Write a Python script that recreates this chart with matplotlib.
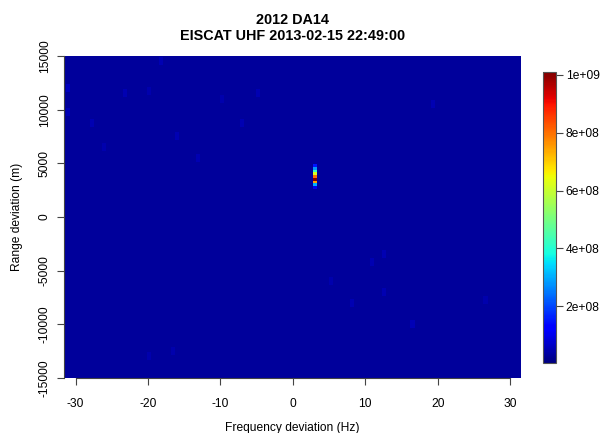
"""Range-Doppler power map of 2012 DA14, EISCAT UHF, 2013-02-15 22:49:00."""
import matplotlib

matplotlib.use("Agg")
import matplotlib.pyplot as plt
import numpy as np
from matplotlib.colors import Normalize
from matplotlib.ticker import FixedLocator

W, H = 604, 433

# grid of the map: Doppler bin width (Hz), range gate (m), noise floor
FREQ_BIN_HZ = 0.56
RANGE_GATE_M = 250
BACKGROUND_POWER = 2.8e7
POWER_MIN = 4e6

# the asteroid echo: one Doppler bin, range profile from top to bottom
ECHO_FREQ_HZ = 3.08
ECHO_RANGE_M = [4775, 4525, 4275, 4025, 3775, 3525, 3275, 3025, 2775]
ECHO_POWER = [1.5e8, 2.8e8, 4.2e8, 6.2e8, 8.0e8, 1.01e9, 7.5e8, 3.0e8, 1.0e8]

# slightly brighter noise streaks seen in the background
STREAK_FREQ_HZ = [-31.2, -27.8, -23.2, -19.7, -16.0, -13.3, -9.6, -18.3, -26.2, -7.0,
                  10.7, 12.7, 8.3, 5.6, 12.5, 16.6, -31.3, 19.2, 26.8, -4.8, -16.3, -19.7]
STREAK_RANGE_M = [12100, 8810, 11610, 11890, 7530, 5540, 10960, 14500, 6570, 8810,
                  -4270, -3510, -7990, -6030, -7060, -10050, 9840, 10490, -7720, 11420,
                  -12570, -13040]
STREAK_POWER = [6e7, 4.8e7, 4.8e7, 4.5e7, 5e7, 4.8e7, 4.5e7, 4.8e7, 4.5e7, 4.8e7,
                5e7, 4.8e7, 4.8e7, 4.5e7, 4.8e7, 5.5e7, 5.5e7, 4.8e7, 4.5e7, 4.8e7,
                4.5e7, 4.5e7]

X_TICKS = [-30, -20, -10, 0, 10, 20, 30]
Y_TICKS = [-15000, -10000, -5000, 0, 5000, 10000, 15000]
CBAR_TICKS = [2e8, 4e8, 6e8, 8e8, 1e9]
CBAR_LABELS = ["2e+08", "4e+08", "6e+08", "8e+08", "1e+09"]

FONT = ["Liberation Sans", "DejaVu Sans"]


def build_map():
    freq_edges = ECHO_FREQ_HZ - FREQ_BIN_HZ / 2 + FREQ_BIN_HZ * np.arange(-62, 53)
    range_edges = np.arange(-15100, 15151, RANGE_GATE_M)
    power = np.full((len(range_edges) - 1, len(freq_edges) - 1), BACKGROUND_POWER)

    def cell(f, r):
        return (np.searchsorted(range_edges, r) - 1, np.searchsorted(freq_edges, f) - 1)

    for f, r, p in zip(STREAK_FREQ_HZ, STREAK_RANGE_M, STREAK_POWER):
        i_r, i_f = cell(f, r)
        power[max(i_r - 1, 0):i_r + 2, i_f] = p
    for r, p in zip(ECHO_RANGE_M, ECHO_POWER):
        i_r, i_f = cell(ECHO_FREQ_HZ, r)
        power[i_r, i_f] = p
    return freq_edges, range_edges, power


def main():
    plt.rcParams["font.family"] = FONT
    plt.rcParams["axes.unicode_minus"] = False
    tick_pt = 12 * 72 / 100

    freq_edges, range_edges, power = build_map()
    norm = Normalize(vmin=POWER_MIN, vmax=max(ECHO_POWER))

    fig = plt.figure(figsize=(W / 100, H / 100), dpi=100)
    ax = fig.add_axes([64 / W, 1 - 378 / H, 457 / W, 322 / H])
    mesh = ax.pcolormesh(freq_edges, range_edges, power, cmap="jet", norm=norm,
                         shading="flat", rasterized=True)
    ax.set_xlim(-31.6, 31.5)
    ax.set_ylim(-15000, 15000)

    for side in ("top", "right"):
        ax.spines[side].set_visible(False)
    ax.spines["bottom"].set_bounds(X_TICKS[0], X_TICKS[-1])
    ax.spines["left"].set_bounds(Y_TICKS[0], Y_TICKS[-1])
    for side in ("bottom", "left"):
        ax.spines[side].set_color("#444444")
        ax.spines[side].set_linewidth(0.8)

    ax.set_xticks(X_TICKS)
    ax.set_yticks(Y_TICKS)
    ax.set_xticklabels([str(t) for t in X_TICKS])
    ax.set_yticklabels([str(t) for t in Y_TICKS], rotation=90, va="center")
    ax.tick_params(axis="both", length=5, width=0.8, color="#444444",
                   labelsize=tick_pt)
    ax.tick_params(axis="x", pad=9.5)
    ax.tick_params(axis="y", pad=4.5)

    fig.text(292.5 / W, 1 - 19.5 / H, "2012 DA14", ha="center", va="center",
             fontsize=14.4 * 0.72, fontweight="bold")
    fig.text(292.5 / W, 1 - 36.5 / H, "EISCAT UHF 2013-02-15 22:49:00", ha="center",
             va="center", fontsize=14.4 * 0.72, fontweight="bold")
    fig.text(292.5 / W, 1 - 428 / H, "Frequency deviation (Hz)", ha="center",
             va="center", fontsize=tick_pt)
    fig.text(17 / W, 1 - 217 / H, "Range deviation (m)", ha="center", va="center",
             rotation=90, fontsize=tick_pt)

    cax = fig.add_axes([543 / W, 1 - 363 / H, 13 / W, 291 / H])
    cbar = fig.colorbar(mesh, cax=cax)
    cbar.ax.yaxis.set_major_locator(FixedLocator(CBAR_TICKS))
    cbar.ax.set_yticklabels(CBAR_LABELS)
    cbar.ax.tick_params(length=5, width=0.8, color="#444444", labelsize=tick_pt, pad=2)
    cbar.outline.set_edgecolor("#555555")
    cbar.outline.set_linewidth(0.8)

    fig.savefig("out.png", dpi=100)
    plt.close(fig)


if __name__ == "__main__":
    main()
